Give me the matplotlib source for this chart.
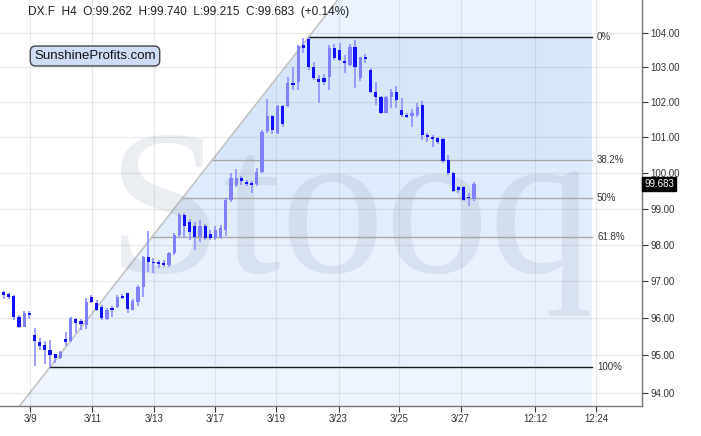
import matplotlib.pyplot as plt
import numpy as np
from matplotlib.ticker import NullLocator, NullFormatter, FixedLocator, FixedFormatter

# DX.F H4 candles
opens = [96.71, 96.65, 96.60, 96.04, 95.77, 96.15, 95.55, 95.37, 95.28, 95.14,
         95.03, 94.92, 95.44, 95.39, 95.97, 95.92, 95.81, 96.58, 96.41, 96.31,
         95.97, 96.28, 96.31, 96.61, 96.67, 96.22, 96.44, 96.85, 97.67, 97.53,
         97.53, 97.49, 97.44, 97.76, 98.27, 98.82, 98.63, 98.52, 98.21, 98.52,
         98.29, 98.18, 98.21, 98.40, 99.24, 99.66, 99.85, 99.74, 99.71, 99.68,
         100.02, 101.18, 101.61, 101.12, 101.89, 101.89, 102.55, 102.58, 103.65, 103.83,
         103.01, 102.67, 102.70, 102.72, 103.56, 103.51, 103.19, 103.07, 103.59, 102.70,
         103.30, 102.93, 102.29, 102.15, 101.69, 102.15, 102.29, 101.78, 101.64, 101.61,
         101.64, 101.92, 101.07, 101.01, 100.98, 100.95, 100.36, 99.99, 99.60, 99.60,
         99.32, 99.262]
highs = [96.73, 96.68, 96.63, 96.08, 96.19, 96.19, 95.73, 95.46, 95.39, 95.41,
         95.05, 95.12, 95.63, 96.04, 95.99, 95.98, 96.54, 96.63, 96.49, 96.36,
         96.27, 96.33, 96.63, 96.65, 96.69, 96.52, 96.90, 97.69, 98.38, 97.63,
         97.58, 97.58, 97.81, 98.31, 98.88, 98.87, 98.71, 98.63, 98.68, 98.57,
         98.40, 98.52, 98.54, 99.29, 99.99, 100.10, 99.91, 99.80, 99.77, 100.13,
         101.21, 102.09, 101.64, 101.92, 101.92, 102.72, 103.01, 103.65, 103.85, 103.88,
         103.16, 102.78, 102.81, 103.65, 103.68, 103.71, 103.36, 103.68, 103.80, 103.30,
         103.39, 102.98, 102.58, 102.18, 102.18, 102.38, 102.46, 102.12, 101.69, 101.81,
         101.98, 102.03, 101.12, 101.07, 101.01, 100.98, 100.50, 100.02, 99.63, 99.63,
         99.43, 99.740]
lows = [96.52, 96.52, 95.95, 95.73, 95.76, 95.98, 94.72, 95.14, 94.77, 94.69,
        94.80, 94.90, 95.25, 95.37, 95.59, 95.68, 95.70, 96.41, 96.19, 95.95,
        95.95, 96.03, 96.27, 96.51, 96.13, 96.21, 96.33, 96.58, 97.26, 97.23,
        97.35, 97.38, 97.38, 97.72, 98.22, 98.22, 98.13, 97.85, 98.07, 98.13,
        98.13, 98.13, 98.16, 98.24, 99.18, 99.60, 99.66, 99.63, 99.43, 99.63,
        99.99, 101.12, 101.09, 101.09, 101.29, 101.86, 102.35, 102.35, 103.42, 102.93,
        102.64, 101.98, 102.49, 102.35, 103.21, 103.19, 102.84, 103.04, 102.41, 102.61,
        103.13, 102.26, 101.92, 101.66, 101.69, 101.83, 101.83, 101.58, 101.55, 101.29,
        101.58, 100.92, 100.87, 100.73, 100.81, 100.27, 99.94, 99.46, 99.43, 99.21,
        99.07, 99.215]
closes = [96.63, 96.57, 96.04, 95.77, 96.15, 96.08, 95.39, 95.25, 95.14, 95.01,
          94.92, 95.10, 95.37, 96.00, 95.88, 95.83, 96.44, 96.44, 96.22, 95.99,
          96.22, 96.22, 96.58, 96.54, 96.24, 96.46, 96.85, 97.67, 97.53, 97.49,
          97.47, 97.44, 97.76, 98.27, 98.82, 98.52, 98.35, 98.21, 98.52, 98.18,
          98.18, 98.40, 98.46, 99.24, 99.85, 99.85, 99.77, 99.68, 99.66, 100.02,
          101.15, 101.61, 101.21, 101.89, 101.38, 102.55, 102.49, 103.62, 103.56, 103.01,
          102.70, 102.58, 102.58, 103.56, 103.27, 103.21, 103.13, 103.59, 103.01, 103.30,
          103.24, 102.29, 102.15, 101.69, 102.15, 102.29, 102.06, 101.64, 101.58, 101.69,
          101.86, 101.07, 101.01, 100.95, 100.87, 100.33, 99.99, 99.49, 99.52, 99.24,
          99.29, 99.683]

tick_labels = ["3/9", "3/11", "3/13", "3/17", "3/19", "3/23", "3/25", "3/27", "12:12", "12:24"]
tick_pos = [5.2, 17.2, 29.1, 40.9, 52.8, 64.8, 76.5, 88.4, 102.8, 114.6]
price_ticks = [94, 95, 96, 97, 98, 99, 100, 101, 102, 103, 104]

fib_names = ["0%", "38.2%", "50%", "61.8%", "100%"]
fib_ratios = [0.0, 0.382, 0.5, 0.618, 1.0]
low_bar, high_bar = 9, 59
lo, hi = 94.69, 103.88
last_close = 99.683

o = np.array(opens); h = np.array(highs); l = np.array(lows); c = np.array(closes)
x = np.arange(len(o))

fig = plt.figure(figsize=(7.01, 4.36), dpi=100)
ax = fig.add_axes([0, 30 / 436, 642 / 701, 406 / 436])
ax.set_yscale('log')
ymin, ymax = 93.66, 104.97
ax.set_ylim(ymin, ymax)
ax.set_xlim(-0.68, 123.5)


def diag_x(p):
    return low_bar + (high_bar - low_bar) * (np.log(p) - np.log(lo)) / (np.log(hi) - np.log(lo))


fib_end = 113.8
levels = [hi - r * (hi - lo) for r in fib_ratios]

# shaded fibonacci zone, right of the trend line
edges = [ymin, lo, levels[3], levels[2], levels[1], hi, ymax]
band_cols = ['#eef5fe', '#e8f1fd', '#e2edfc', '#deebfc', '#d6e6fb', '#eaf3fe']
for p1, p2, col in zip(edges[:-1], edges[1:], band_cols):
    ax.fill([diag_x(p1), diag_x(p2), fib_end, fib_end], [p1, p2, p2, p1],
            color=col, lw=0, zorder=0.1)

ax.plot([diag_x(ymin), diag_x(ymax)], [ymin, ymax], color='#c4c4c4', lw=1.2, zorder=0.3)

for name, r, p in zip(fib_names, fib_ratios, levels):
    col = '#1a1a1a' if r in (0.0, 1.0) else '#a8a8a8'
    ax.plot([diag_x(p), fib_end], [p, p], color=col, lw=1.0, zorder=0.4)
    ax.text(fib_end + 1.0, p, name, va='center', ha='left', fontsize=7,
            color='#333333', family='Liberation Sans')

# watermark
ax.text(0.545, 0.33, 'Stooq', transform=ax.transAxes, ha='center', va='baseline',
        fontsize=150, family='Liberation Serif', color='#8090a8', alpha=0.16, zorder=0.35)

# candles
up = c >= o
ax.vlines(x, l, h, color='#8f8fff', lw=1.2, zorder=2)
body_lo = np.minimum(o, c)
body_h = np.maximum(np.abs(c - o), 0.025)
ax.bar(x[up], body_h[up], bottom=body_lo[up], width=0.62, color='#8080ff', lw=0, zorder=3)
ax.bar(x[~up], body_h[~up], bottom=body_lo[~up], width=0.62, color='#1010ff', lw=0, zorder=3)

ax.set_axisbelow(True)
ax.grid(True, color='#707070', alpha=0.14, lw=0.8)

ax.yaxis.tick_right()
ax.yaxis.set_major_locator(FixedLocator(price_ticks))
ax.yaxis.set_major_formatter(FixedFormatter(['%.2f' % v for v in price_ticks]))
ax.yaxis.set_minor_locator(NullLocator())
ax.yaxis.set_minor_formatter(NullFormatter())
ax.set_xticks(tick_pos)
ax.set_xticklabels(tick_labels)
ax.tick_params(axis='both', labelsize=7, colors='#333333', length=4, width=0.8, pad=2)
for lab in ax.get_xticklabels() + ax.get_yticklabels():
    lab.set_family('Liberation Sans')

for s in ['left', 'top']:
    ax.spines[s].set_visible(False)
for s in ['right', 'bottom']:
    ax.spines[s].set_color('#777777')
    ax.spines[s].set_linewidth(1.0)

ax.annotate('%.3f' % last_close, xy=(1, last_close), xycoords=('axes fraction', 'data'),
            xytext=(1.5, 0), textcoords='offset points', va='center', ha='left',
            fontsize=7, color='white', family='Liberation Sans', zorder=10,
            bbox=dict(boxstyle='square,pad=0.18', fc='black', ec='black'), annotation_clip=False)

fig.text(28 / 701, 1 - 12 / 436,
         'DX.F  H4  O:%.3f  H:%.3f  L:%.3f  C:%.3f  (+0.14%%)' % (opens[-1], highs[-1], lows[-1], closes[-1]),
         fontsize=8.6, va='center', ha='left', family='Liberation Sans', color='#222222')
fig.text(95 / 701, 1 - 56 / 436, 'SunshineProfits.com', fontsize=9.5, va='center', ha='center',
         family='Liberation Sans', color='#111111',
         bbox=dict(boxstyle='round,pad=0.3,rounding_size=0.4', fc='#cfdcf6', ec='#444444', lw=1))

fig.savefig('out.png', dpi=100)
